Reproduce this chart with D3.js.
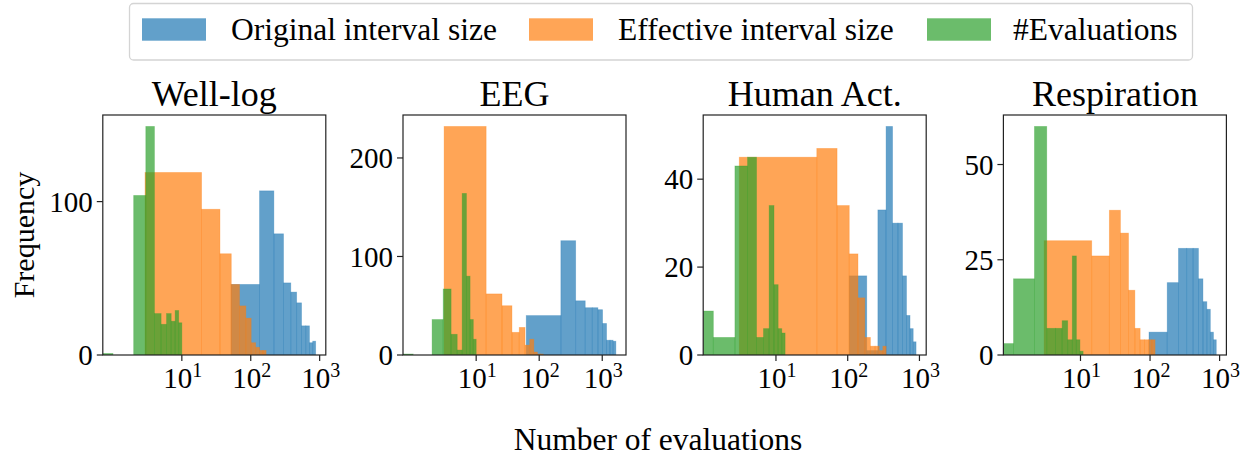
<!DOCTYPE html>
<html>
<head>
<meta charset="utf-8">
<script src="https://cdn.jsdelivr.net/npm/d3@7"></script>
<style>
  body { margin: 0; background: #fff; }
  svg text { font-family: "Liberation Serif", "Times New Roman", serif; fill: #000; }
</style>
</head>
<body>
<script>
var width = 1252,
    height = 460;

// datasets (one panel each)
var panels = ["Well-log", "EEG", "Human Act.", "Respiration"];
var seriesNames = ["Original interval size", "Effective interval size", "#Evaluations"];
var colors = ["#1f77b4", "#ff7f0e", "#2ca02c"];

// each histogram: [min, max] of the data, split into 10 equal bins
var originalRange = [[51.8, 875], [62.3, 1645], [105, 897], [96.6, 895]];
var originalCounts = [
    [46, 107, 79, 47, 41, 34, 19, 19, 8, 9],
    [40, 116, 55, 48, 48, 46, 32, 15, 15, 14],
    [18, 1, 33, 52, 30, 30, 18, 9, 6, 3],
    [6, 19, 28, 28, 28, 20, 14, 12, 6, 4]
];
var effectiveRange = [[2.92, 167], [3.1, 116], [3.08, 343], [3, 118]];
var effectiveCounts = [
    [119, 95, 66, 46, 32, 24, 8, 5, 3, 3],
    [232, 62, 50, 23, 28, 10, 16, 3, 1, 1],
    [45, 47, 34, 23, 13, 4, 2, 2, 1, 2],
    [30, 26, 38, 32, 17, 7, 4, 4, 4, 4]
];
var evalRange = [[0, 10], [0, 10], [0, 13.4], [0, 10.9]];
var evalCounts = [
    [1, 0, 104, 149, 27, 20, 27, 22, 29, 21],
    [1, 0, 36, 67, 21, 5, 164, 80, 36, 16],
    [10, 4, 43, 45, 4, 6, 34, 16, 6, 5],
    [3, 20, 60, 7, 7, 9, 4, 26, 4, 1]
];

var yTicks = [[0, 100], [0, 100, 200], [0, 20, 40], [0, 25, 50]];
var xTicks = [10, 100, 1000];
var xTickExp = ["1", "2", "3"];

var axLeft = 102.8, axStep = 300.2, axW = 223,
    axTop = 115, axBottom = 355;

var svg = d3.select("body").append("svg")
    .attr("width", width)
    .attr("height", height);

function edges(r) {
    return d3.range(11).map(function(k) { return r[0] + k * (r[1] - r[0]) / 10; });
}

panels.forEach(function(name, p) {
    var hists = [
        {edges: edges(originalRange[p]), counts: originalCounts[p], color: colors[0]},
        {edges: edges(effectiveRange[p]), counts: effectiveCounts[p], color: colors[1]},
        {edges: edges(evalRange[p]), counts: evalCounts[p], color: colors[2]}
    ];

    // matplotlib-like autoscale on log axis: smallest positive edge .. largest edge, 5% margin
    var allEdges = d3.merge(hists.map(function(h) { return h.edges; }));
    var lo = Math.log10(d3.min(allEdges.filter(function(v) { return v > 0; })));
    var hi = Math.log10(d3.max(allEdges));
    var pad = (hi - lo) * 0.05;
    var x0 = axLeft + p * axStep;

    var x = d3.scaleLog()
        .domain([Math.pow(10, lo - pad), Math.pow(10, hi + pad)])
        .range([x0, x0 + axW]);
    var ymax = d3.max(hists, function(h) { return d3.max(h.counts); }) * 1.05;
    var y = d3.scaleLinear().domain([0, ymax]).range([axBottom, axTop]);

    var g = svg.append("g");

    g.append("clipPath").attr("id", "clip" + p)
        .append("rect")
        .attr("x", x0).attr("y", axTop)
        .attr("width", axW).attr("height", axBottom - axTop);

    var plot = g.append("g").attr("clip-path", "url(#clip" + p + ")");

    hists.forEach(function(h) {
        var bins = h.counts.map(function(c, i) {
            return {a: h.edges[i], b: h.edges[i + 1], c: c};
        }).filter(function(d) { return d.c > 0; });

        plot.selectAll(null)
            .data(bins)
            .enter().append("rect")
            .attr("x", function(d) { return d.a > 0 ? x(d.a) : x0 - 2; })
            .attr("width", function(d) { return x(d.b) - (d.a > 0 ? x(d.a) : x0 - 2); })
            .attr("y", function(d) { return y(d.c); })
            .attr("height", function(d) { return axBottom - y(d.c); })
            .attr("fill", h.color)
            .attr("fill-opacity", 0.7)
            .attr("stroke", h.color)
            .attr("stroke-opacity", 0.35)
            .attr("stroke-width", 0.8);
    });

    // spines
    g.append("rect")
        .attr("x", x0).attr("y", axTop)
        .attr("width", axW).attr("height", axBottom - axTop)
        .attr("fill", "none")
        .attr("stroke", "#222")
        .attr("stroke-width", 1.2);

    // y ticks
    var yt = g.selectAll(".ytick")
        .data(yTicks[p])
        .enter().append("g");
    yt.append("line")
        .attr("x1", x0 - 6).attr("x2", x0)
        .attr("y1", function(d) { return y(d); })
        .attr("y2", function(d) { return y(d); })
        .attr("stroke", "#222").attr("stroke-width", 1.2);
    yt.append("text")
        .attr("x", x0 - 10)
        .attr("y", function(d) { return y(d); })
        .attr("dy", "0.35em")
        .attr("text-anchor", "end")
        .style("font-size", "29px")
        .text(function(d) { return d; });

    // x ticks
    var xt = g.selectAll(".xtick")
        .data(xTicks)
        .enter().append("g");
    xt.append("line")
        .attr("x1", function(d) { return x(d); })
        .attr("x2", function(d) { return x(d); })
        .attr("y1", axBottom).attr("y2", axBottom + 6)
        .attr("stroke", "#222").attr("stroke-width", 1.2);
    var lab = xt.append("text")
        .attr("x", function(d) { return x(d) + 1; })
        .attr("y", axBottom + 33)
        .attr("text-anchor", "middle")
        .style("font-size", "29px");
    lab.append("tspan").text("10");
    lab.append("tspan")
        .attr("dy", -11)
        .style("font-size", "20px")
        .text(function(d, i) { return xTickExp[i]; });

    g.append("text")
        .attr("x", x0 + axW / 2)
        .attr("y", 106)
        .attr("text-anchor", "middle")
        .style("font-size", "36px")
        .text(name);
});

svg.append("text")
    .attr("transform", "translate(33.5,235) rotate(-90)")
    .attr("text-anchor", "middle")
    .style("font-size", "30px")
    .text("Frequency");

svg.append("text")
    .attr("x", 658)
    .attr("y", 450)
    .attr("text-anchor", "middle")
    .style("font-size", "31.5px")
    .text("Number of evaluations");

// legend
var legend = svg.append("g");
legend.append("rect")
    .attr("x", 129.5).attr("y", 3.5)
    .attr("width", 1063).attr("height", 56.5)
    .attr("rx", 4)
    .attr("fill", "#fff")
    .attr("stroke", "#d4d4d4")
    .attr("stroke-width", 1.3);

var swatchX = [142, 529, 927];
var labelX = [231, 618, 1013];
seriesNames.forEach(function(s, i) {
    legend.append("rect")
        .attr("x", swatchX[i]).attr("y", 18.3)
        .attr("width", 64).attr("height", 22.4)
        .attr("fill", colors[i])
        .attr("fill-opacity", 0.7);
    legend.append("text")
        .attr("x", labelX[i])
        .attr("y", 40)
        .style("font-size", "31.5px")
        .text(s);
});
</script>
</body>
</html>
